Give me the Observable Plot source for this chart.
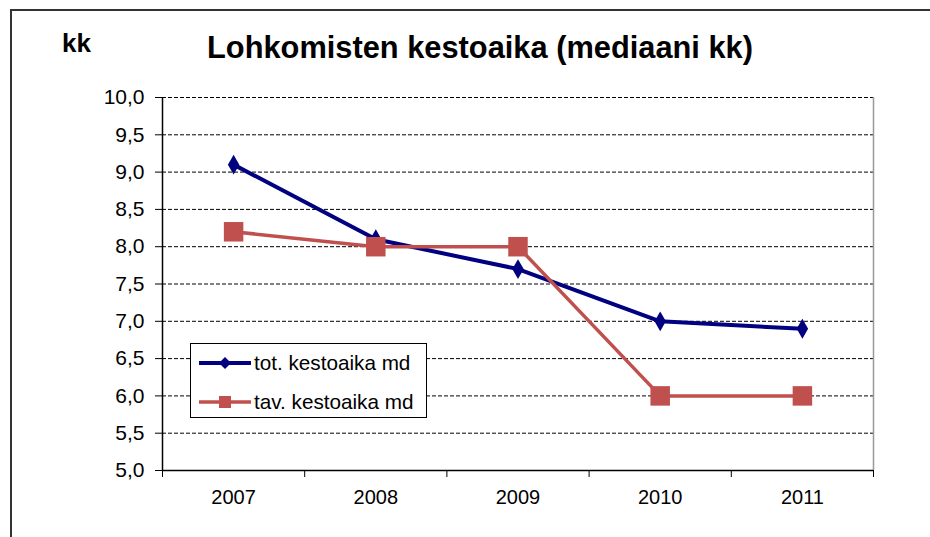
<!DOCTYPE html>
<html>
<head>
<meta charset="utf-8">
<script src="https://cdn.jsdelivr.net/npm/d3@7"></script>
<script src="https://cdn.jsdelivr.net/npm/@observablehq/plot@0.6"></script>
<style>
  body { margin: 0; background: white; font-family: "Liberation Sans", Arial, sans-serif; }
  #wrap { position: relative; width: 930px; height: 537px; overflow: hidden; background: white; }
  #frame { position: absolute; left: 10px; top: 9px; width: 940px; height: 560px; border-left: 2px solid #333; border-top: 2px solid #333; box-sizing: border-box; }
  #chart { position: absolute; left: 0; top: 0; }
  #title { position: absolute; left: 0; width: 960px; top: 30px; text-align: center; font-weight: bold; font-size: 30.8px; line-height: 36px; color: #000; }
  #unit { position: absolute; left: 62px; top: 28px; font-weight: bold; font-size: 26px; line-height: 30px; color: #000; }
  #legend { position: absolute; left: 190px; top: 343px; width: 237px; height: 75px; border: 1px solid #000; background: white; box-sizing: border-box; font-size: 20.7px; }
  .item { position: absolute; left: 7px; display: flex; align-items: center; height: 24px; }
  .item span { margin-left: 2px; white-space: nowrap; }
</style>
</head>
<body>
<div id="wrap">
  <div id="frame"></div>
  <div id="chart"></div>
  <div id="unit">kk</div>
  <div id="title">Lohkomisten kestoaika (mediaani kk)</div>
  <div id="legend"></div>
</div>
<script>
const years = [2007, 2008, 2009, 2010, 2011];
const totValues = [9.1, 8.1, 7.7, 7.0, 6.9];
const tavValues = [8.2, 8.0, 8.0, 6.0, 6.0];
const seriesNames = ["tot. kestoaika md", "tav. kestoaika md"];
const seriesColors = ["#000080", "#C0504D"];
const yTicks = [5, 5.5, 6, 6.5, 7, 7.5, 8, 8.5, 9, 9.5, 10];

const tot = years.map((y, i) => ({year: y, value: totValues[i]}));
const tav = years.map((y, i) => ({year: y, value: tavValues[i]}));
const boundaries = [years[0] - 0.5, ...years.map(y => y + 0.5)];
const fmt = d => d.toFixed(1).replace(".", ",");

const chart = Plot.plot({
  width: 930,
  height: 537,
  marginLeft: 162,
  marginRight: 57,
  marginTop: 97,
  marginBottom: 67,
  style: {fontFamily: '"Liberation Sans", Arial, sans-serif', fontSize: "20px", color: "#000", background: "transparent"},
  x: {type: "linear", domain: [years[0] - 0.5, years[years.length - 1] + 0.5]},
  y: {domain: [5, 10]},
  marks: [
    Plot.ruleY(yTicks.slice(1), {stroke: "#000", strokeWidth: 1, strokeDasharray: "4,2"}),
    Plot.ruleX([boundaries[boundaries.length - 1]], {stroke: "#999", strokeWidth: 1.5}),
    Plot.axisY({ticks: yTicks, tickFormat: fmt, tickSize: 7, tickPadding: 11, label: null, fontSize: 21}),
    Plot.axisX({ticks: boundaries, tickSize: 7, tickFormat: () => "", label: null}),
    Plot.axisX({ticks: years, tickSize: 0, tickPadding: 19, tickFormat: d => String(d), label: null, fontSize: 20}),
    Plot.ruleX([boundaries[0]], {stroke: "#000", strokeWidth: 1.5}),
    Plot.ruleY([5], {stroke: "#000", strokeWidth: 1.5}),
    Plot.line(tot, {x: "year", y: "value", stroke: seriesColors[0], strokeWidth: 4}),
    Plot.dot(tot, {x: "year", y: "value", symbol: "diamond", r: 6, fill: seriesColors[0], stroke: "none"}),
    Plot.line(tav, {x: "year", y: "value", stroke: seriesColors[1], strokeWidth: 3.5}),
    Plot.dot(tav, {x: "year", y: "value", symbol: "square", r: 11, fill: seriesColors[1], stroke: "none"})
  ]
});
document.getElementById("chart").appendChild(chart);

// Legend
const legend = document.getElementById("legend");
const tops = [7, 46];
const shapes = [
  '<polygon points="27,6 33,12 27,18 21,12" fill="' + seriesColors[0] + '"/>',
  '<rect x="21" y="6" width="12" height="12" fill="' + seriesColors[1] + '"/>'
];
seriesNames.forEach((name, i) => {
  const div = document.createElement("div");
  div.className = "item";
  div.style.top = tops[i] + "px";
  div.innerHTML = '<svg width="54" height="24"><line x1="1" x2="53" y1="12" y2="12" stroke="' + seriesColors[i] + '" stroke-width="' + (i === 0 ? 4 : 3.5) + '"/>' + shapes[i] + '</svg><span>' + name + '</span>';
  legend.appendChild(div);
});
</script>
</body>
</html>
